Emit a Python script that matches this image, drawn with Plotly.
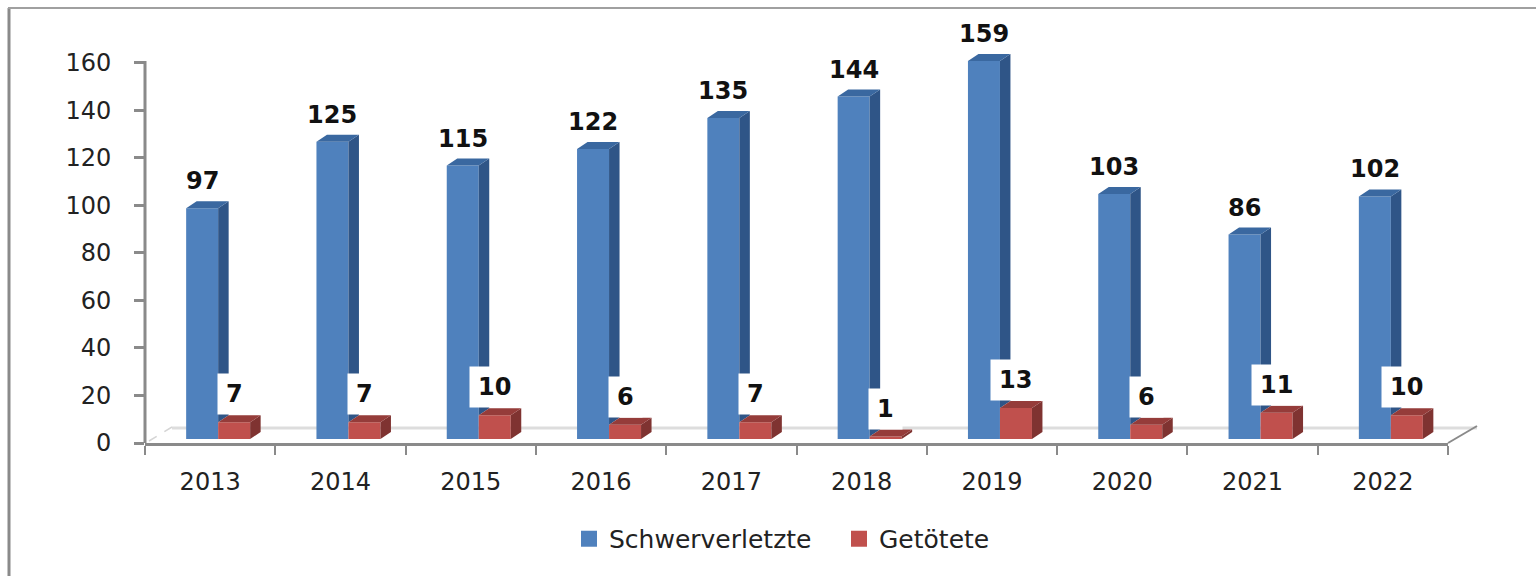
import plotly.graph_objects as go

years = ["2013", "2014", "2015", "2016", "2017", "2018", "2019", "2020", "2021", "2022"]
schwerverletzte = [97, 125, 115, 122, 135, 144, 159, 103, 86, 102]
getoetete = [7, 7, 10, 6, 7, 1, 13, 6, 11, 10]
y_ticks = [0, 20, 40, 60, 80, 100, 120, 140, 160]
series_names = ["Schwerverletzte", "Getötete"]

X0, X1, Y160, Y0 = 145.0, 1448.0, 62.5, 443.0
PX_X = (X1 - X0) / len(years)
PX_Y = (Y0 - Y160) / 160
Y_MAX = 180
Y_TOP = Y0 - Y_MAX * PX_Y
DX, DY = 10.5 / PX_X, 7 / PX_Y
BASE = 4 / PX_Y
WIDTH = 32 / PX_X
BLUE_OFF, RED_OFF = -24.0 / PX_X, 8.0 / PX_X
BLUE, RED = "#4F81BD", "#C0504D"
idx = list(range(len(years)))


def side_top(off, vals, floors):
    sx, sy, tx, ty = [], [], [], []
    for i, v, f in zip(idx, vals, floors):
        top = v + BASE
        l, r = i + off, i + off + WIDTH
        sx += [r, r + DX, r + DX, r, None]
        sy += [top, top + DY, f + DY, f, None]
        tx += [l, r, r + DX, l + DX, l, None]
        ty += [top, top, top + DY, top + DY, top, None]
    return sx, sy, tx, ty


def poly(x, y, color):
    return go.Scatter(x=x, y=y, mode="lines", fill="toself", fillcolor=color,
                      line=dict(width=0, color=color), showlegend=False,
                      hoverinfo="skip", cliponaxis=False)


red_tops = [v + BASE for v in getoetete]
bs_x, bs_y, bt_x, bt_y = side_top(BLUE_OFF, schwerverletzte, red_tops)
rs_x, rs_y, rt_x, rt_y = side_top(RED_OFF, getoetete, [BASE] * len(idx))

fig = go.Figure()
fig.add_trace(go.Bar(x=idx, y=schwerverletzte, base=BASE, width=WIDTH, offset=BLUE_OFF,
                     name=series_names[0], marker=dict(color=BLUE, line=dict(width=0)),
                     showlegend=False))
fig.add_trace(go.Bar(x=idx, y=getoetete, base=BASE, width=WIDTH, offset=RED_OFF,
                     name=series_names[1], marker=dict(color=RED, line=dict(width=0)),
                     showlegend=False))
fig.add_trace(poly(bs_x, bs_y, "#2F5587"))
fig.add_trace(poly(bt_x, bt_y, "#3A68A0"))
fig.add_trace(poly(rs_x, rs_y, "#7F3331"))
fig.add_trace(poly(rt_x, rt_y, "#953C3A"))
for name, color in zip(series_names, [BLUE, RED]):
    fig.add_trace(go.Scatter(x=[None], y=[None], mode="markers", name=name,
                             marker=dict(symbol="square", size=16, color=color)))

font_lab = dict(family="DejaVu Sans", size=24, color="#111111")
anns = []
for i, v, g in zip(idx, schwerverletzte, getoetete):
    anns.append(dict(x=i + BLUE_OFF + WIDTH / 2, y=v + BASE, xref="x", yref="y", yshift=27,
                     text=f"<b>{v}</b>", showarrow=False, font=font_lab, yanchor="middle"))
    anns.append(dict(x=i + RED_OFF + WIDTH / 2, y=g + BASE, xref="x", yref="y", yshift=28,
                     text=f"<b>{g}</b>", showarrow=False, font=font_lab, yanchor="middle",
                     bgcolor="white", borderpad=8, height=24))

GREY = "#8A8A8A"
px = lambda p: (p - X0) / (X1 - X0)
py = lambda p: (Y0 - p) / (Y0 - Y_TOP)
paper = dict(xref="paper", yref="paper")
shapes = [
    dict(type="line", layer="below", x0=px(172), x1=px(1477), y0=py(428), y1=py(428),
         line=dict(color="#DDDDDD", width=3), **paper),
    dict(type="line", layer="below", x0=px(149), x1=px(172), y0=py(441), y1=py(427),
         line=dict(color="#D5D5D5", width=1.5, dash="dash"), **paper),
    dict(type="line", layer="below", x0=px(1448), x1=px(1477), y0=py(443), y1=py(426),
         line=dict(color=GREY, width=2), **paper),
    dict(type="line", x0=px(X0), x1=px(X0), y0=py(Y0), y1=py(Y160 - 1.5),
         line=dict(color=GREY, width=3), **paper),
    dict(type="line", x0=px(9), x1=px(9), y0=py(8), y1=py(576),
         line=dict(color=GREY, width=3), **paper),
    dict(type="line", x0=px(8), x1=px(1536), y0=py(8), y1=py(8),
         line=dict(color="#A0A0A0", width=2), **paper),
]

n = len(years) - 0.5
fig.update_layout(
    width=1536, height=576, autosize=False,
    margin=dict(l=X0, r=1536 - X1, t=Y_TOP, b=576 - Y0, pad=0),
    paper_bgcolor="white", plot_bgcolor="white",
    barmode="overlay", font=dict(family="DejaVu Sans", size=24, color="#222222"),
    annotations=anns, shapes=shapes,
    legend=dict(orientation="h", xanchor="left", x=px(569), yanchor="middle", y=py(539),
                font=dict(size=25, color="#222222"), bgcolor="rgba(0,0,0,0)",
                entrywidth=225, entrywidthmode="pixels", traceorder="normal"),
    xaxis=dict(range=[-0.5, n], tickmode="array", tickvals=idx, ticktext=years,
               ticks="outside", ticklen=0, tickwidth=0, showgrid=False, zeroline=False,
               showline=True, linecolor=GREY, linewidth=3, ticklabelstandoff=15,
               tickfont=dict(size=24),
               minor=dict(tickmode="array", tickvals=[i - 0.5 for i in range(len(years) + 1)],
                          ticks="outside", ticklen=9, tickwidth=2, tickcolor=GREY, showgrid=False)),
    yaxis=dict(range=[0, Y_MAX], tickmode="array", tickvals=y_ticks, ticks="outside",
               ticklen=10, tickwidth=3, tickcolor=GREY, showgrid=False, zeroline=False,
               showline=False, ticklabelstandoff=18, tickfont=dict(size=24)),
)

fig.write_html("out.html", post_script="document.body.style.margin='0';document.body.style.overflow='hidden';",
               config={"displayModeBar": False})
